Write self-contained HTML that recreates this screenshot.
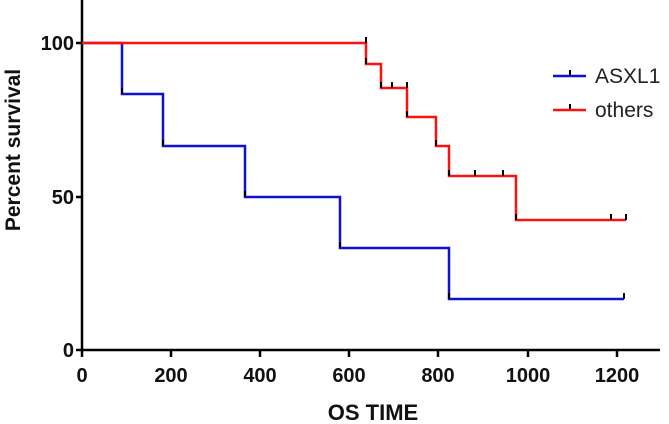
<!DOCTYPE html>
<html><head><meta charset="utf-8"><style>
html,body{margin:0;padding:0;background:#fff;}
svg{display:block;font-family:"Liberation Sans",Arial,sans-serif;}
</style></head><body>
<svg width="669" height="424" viewBox="0 0 669 424" xmlns="http://www.w3.org/2000/svg">
<g stroke="#000" stroke-width="2.5" fill="none">
<line x1="82" y1="0" x2="82" y2="351"/>
<line x1="81" y1="350" x2="660" y2="350"/>
<line x1="76" y1="43" x2="82" y2="43"/>
<line x1="76" y1="197" x2="82" y2="197"/>
<line x1="76" y1="350" x2="82" y2="350"/>
<line x1="82" y1="350" x2="82" y2="357"/>
<line x1="171" y1="350" x2="171" y2="357"/>
<line x1="260" y1="350" x2="260" y2="357"/>
<line x1="349" y1="350" x2="349" y2="357"/>
<line x1="438" y1="350" x2="438" y2="357"/>
<line x1="528" y1="350" x2="528" y2="357"/>
<line x1="617" y1="350" x2="617" y2="357"/>
</g>
<g font-weight="bold" font-size="20" fill="#111" text-anchor="middle">
<text x="82" y="382">0</text>
<text x="171" y="382">200</text>
<text x="260" y="382">400</text>
<text x="349" y="382">600</text>
<text x="438" y="382">800</text>
<text x="528" y="382">1000</text>
<text x="617" y="382">1200</text>
<text x="373" y="420" font-size="22">OS TIME</text>
</g>
<g font-weight="bold" font-size="20" fill="#111" text-anchor="end">
<text x="74" y="50">100</text>
<text x="74" y="204">50</text>
<text x="74" y="357">0</text>
</g>
<text transform="translate(20,150) rotate(-90)" text-anchor="middle" font-weight="bold" font-size="21" fill="#111">Percent survival</text>
<path d="M82 43 H122 V94 H163 V146 H245 V197 H340 V248 H449 V299 H624" stroke="#1010d0" stroke-width="2.5" fill="none"/>
<path d="M82 43 H366 V64 H381 V88 H407 V117 H436 V146 H449 V176 H516 V220 H626" stroke="#ff1010" stroke-width="2.5" fill="none"/>
<g stroke="#000" stroke-width="2">
<line x1="122" y1="88" x2="122" y2="94"/>
<line x1="163" y1="140" x2="163" y2="146"/>
<line x1="245" y1="191" x2="245" y2="197"/>
<line x1="340" y1="242" x2="340" y2="248"/>
<line x1="449" y1="293" x2="449" y2="299"/>
<line x1="624" y1="293" x2="624" y2="299"/>
<line x1="366" y1="37" x2="366" y2="43"/>
<line x1="366" y1="58" x2="366" y2="64"/>
<line x1="381" y1="82" x2="381" y2="88"/>
<line x1="392" y1="82" x2="392" y2="88"/>
<line x1="407" y1="82" x2="407" y2="88"/>
<line x1="407" y1="111" x2="407" y2="117"/>
<line x1="436" y1="140" x2="436" y2="146"/>
<line x1="449" y1="170" x2="449" y2="176"/>
<line x1="475" y1="170" x2="475" y2="176"/>
<line x1="503" y1="170" x2="503" y2="176"/>
<line x1="516" y1="214" x2="516" y2="220"/>
<line x1="611" y1="214" x2="611" y2="220"/>
<line x1="626" y1="214" x2="626" y2="220"/>
<line x1="570" y1="70" x2="570" y2="76"/>
<line x1="570" y1="104" x2="570" y2="110"/>
</g>
<line x1="553" y1="76" x2="586" y2="76" stroke="#1010d0" stroke-width="2.5"/>
<line x1="553" y1="110" x2="586" y2="110" stroke="#ff1010" stroke-width="2.5"/>
<g font-size="21" fill="#222">
<text x="595" y="83">ASXL1</text>
<text x="595" y="117">others</text>
</g>
</svg>
</body></html>
